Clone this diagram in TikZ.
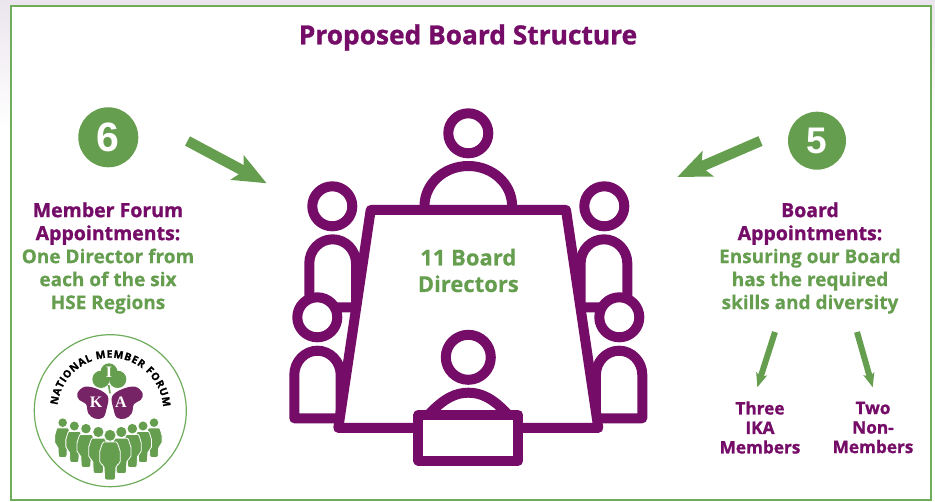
\documentclass[tikz,border=0pt]{standalone}
\usepackage{fontspec}
\setmainfont{Open Sans}[BoldFeatures={FakeBold=1.1}]
\newfontfamily\plainbold{Open Sans}[BoldFeatures={FakeBold=0.35}]
\newfontfamily\numfont{Liberation Sans}
\newfontfamily\logoserif{Liberation Serif}
\usetikzlibrary{arrows.meta,decorations.text}
\definecolor{brdpurple}{HTML}{750D68}
\definecolor{brdgreen}{HTML}{669E4F}
\definecolor{framegreen}{HTML}{6FAD5C}
\definecolor{blobpurple}{HTML}{762465}
\definecolor{lavender}{HTML}{EBE5ED}
\tikzset{
  x=1pt,y=-1pt,
  icon/.style={draw=brdpurple,line width=10pt,line join=round,line cap=round},
  iconfill/.style={icon,fill=white},
  title/.style={font=\fontsize{26.3}{30}\selectfont\bfseries,text=brdpurple},
  side/.style={font=\plainbold\fontsize{19}{23}\selectfont\bfseries,align=center,text=brdgreen},
  sub/.style={font=\fontsize{17.2}{19.5}\selectfont\bfseries,align=center,text=brdpurple},
  mid/.style={font=\plainbold\fontsize{22}{26.5}\selectfont\bfseries,align=center,text=brdgreen},
  numdisc/.style={circle,fill=brdgreen,text=white,inner sep=0pt,font=\numfont\bfseries},
  bigarrow/.style={draw=brdgreen,line width=10.5pt,-{Stealth[length=33pt,width=27pt,inset=7pt]}},
  smallarrow/.style={draw=brdgreen,line width=6pt,-{Stealth[length=14pt,width=11pt,inset=3pt]}},
  logoletter/.style={text=white,font=\logoserif\bfseries\fontsize{16}{16}\selectfont},
}
\newcommand{\purp}[1]{\textcolor{brdpurple}{\normalfont\fontsize{19.5}{23}\selectfont\bfseries #1}}
\newcommand{\lgperson}[3]{%
  \begin{scope}[shift={(#1,#2)},scale=#3]
    \fill[brdgreen] (0,0) circle[radius=16.5];
    \draw[draw=white,line width=.8pt,fill=brdgreen,rounded corners=2pt]
      (-31,84) -- (-31,42) to[out=-90,in=180] (-13,20) -- (13,20) to[out=0,in=-90] (31,42)
      -- (31,84) -- (18,90) -- (16,134) -- (-16,134) -- (-18,90) -- cycle;
  \end{scope}}
\begin{document}
\begin{tikzpicture}
\useasboundingbox (0,0) rectangle (935,502);
% page background
\fill[white] (0,0) rectangle (935,502);
\shade[top color=lavender,bottom color=white] (0,0) rectangle (935,130);
\draw[draw=framegreen,line width=2.6pt,fill=white] (11,6) rectangle (931,500);

\node[title] (ttl) at (468,37.5) {Proposed Board Structure};

% people at the table
\draw[icon] (309.3,296.7) -- (309.3,263.3) arc[start angle=180,end angle=360,x radius=23.35,y radius=24] -- (356,307.3) -- (336.7,307.3);
\draw[icon] (627.3,296.7) -- (627.3,263.3) arc[start angle=360,end angle=180,x radius=23.35,y radius=24] -- (580.6,307.3) -- (600,307.3);
\draw[icon] (294.3,418.3) -- (294.3,375) arc[start angle=180,end angle=360,x radius=23.2,y radius=24.3] -- (340.7,418.3) -- cycle;
\draw[icon] (642.3,418.3) -- (642.3,375) arc[start angle=360,end angle=180,x radius=23.2,y radius=24.3] -- (595.9,418.3) -- cycle;
\draw[iconfill] (332.3,206.3) circle[radius=20];
\draw[iconfill] (604.3,206.3) circle[radius=20];
\draw[iconfill] (317.3,317.3) circle[radius=20];
\draw[iconfill] (619.3,317.3) circle[radius=20];
\draw[icon] (468.3,133.3) circle[radius=20];
\draw[icon] (424.5,206) arc[start angle=180,end angle=360,x radius=43.8,y radius=40];
% table
\draw[iconfill] (370.7,210) -- (566,210) -- (598.3,428) -- (338.3,428) -- cycle;
% front person
\draw[icon] (468.3,357.3) circle[radius=22.5];
\draw[icon] (428.3,415) .. controls (444,398) and (456,392.7) .. (468.3,392.7) .. controls (481,392.7) and (493,398) .. (508.3,415);
\draw[iconfill] (418.3,415) rectangle (518.3,460.7);

\node[mid] (dirs) at (468.3,270.5) {11 Board\\Directors};

% numbered discs and arrows
\node[numdisc,minimum size=60pt,font=\numfont\bfseries\fontsize{41}{41}\selectfont] (six) at (108.3,137.3) {6};
\node[numdisc,minimum size=58pt,font=\numfont\bfseries\fontsize{37}{37}\selectfont] (five) at (817,140.7) {5};
\coordinate (sixS) at (187.5,141);
\coordinate (sixE) at (266.7,183.3);
\coordinate (fiveS) at (760.5,141);
\coordinate (fiveE) at (677.3,177);
\draw[bigarrow] (sixS) -- (sixE);
\draw[bigarrow] (fiveS) -- (fiveE);

\node[side] (leftblk) at (108,258) {\purp{Member Forum}\\\purp{Appointments:}\\One Director from\\each of the six\\HSE Regions};
\node[side] (rightblk) at (810,258) {\purp{Board}\\\purp{Appointments:}\\Ensuring our Board\\has the required\\skills and diversity};

\coordinate (armS) at (775,332);
\coordinate (armE) at (757.3,387.3);
\coordinate (brmS) at (857,332);
\coordinate (brmE) at (872.7,387.3);
\draw[smallarrow] (armS) -- (armE);
\draw[smallarrow] (brmS) -- (brmE);
\node[sub] (ika) at (760,427.5) {Three\\IKA\\Members};
\node[sub] (non) at (873,427.5) {Two\\Non-\\Members};

% logo
\draw[draw=framegreen,line width=1.2pt,fill=white] (110.3,410.7) circle[radius=76];
\path[decorate,decoration={text along path,text align={fit to path},
   text={|\fontsize{10.4}{10.4}\selectfont\bfseries|NATIONAL MEMBER FORUM}}]
   (110.3,410.7) ++(186:53) arc[start angle=186,end angle=356,radius=53];
\begin{scope}[shift={(20,330)},scale=1/3]
  \fill[brdgreen] (267,125) circle[radius=25];
  \fill[brdgreen] (243,148) circle[radius=26];
  \fill[brdgreen] (293,148) circle[radius=26];
  \draw[draw=brdgreen,line width=1.6pt] (266,165) -- (270,190);
  \fill[blobpurple] plot[smooth cycle,tension=.6] coordinates {(172,190) (195,170) (235,178) (264,200) (260,235) (250,262) (225,266) (205,250) (198,222) (178,210)};
  \fill[blobpurple] plot[smooth cycle,tension=.6] coordinates {(368,190) (345,170) (305,178) (276,200) (280,235) (290,262) (315,266) (335,250) (342,222) (362,210)};
  \node[logoletter] (lgI) at (267,126) {I};
  \node[logoletter] (lgK) at (228,218) {K};
  \node[logoletter] (lgA) at (303,218) {A};
  \lgperson{128}{278}{.78}
  \lgperson{402}{278}{.78}
  \lgperson{163}{288}{.82}
  \lgperson{369}{288}{.82}
  \lgperson{198}{296}{.87}
  \lgperson{337}{296}{.87}
  \lgperson{235}{306}{.93}
  \lgperson{304}{306}{.93}
  \lgperson{270}{316}{1}
\end{scope}
\end{tikzpicture}
\end{document}
